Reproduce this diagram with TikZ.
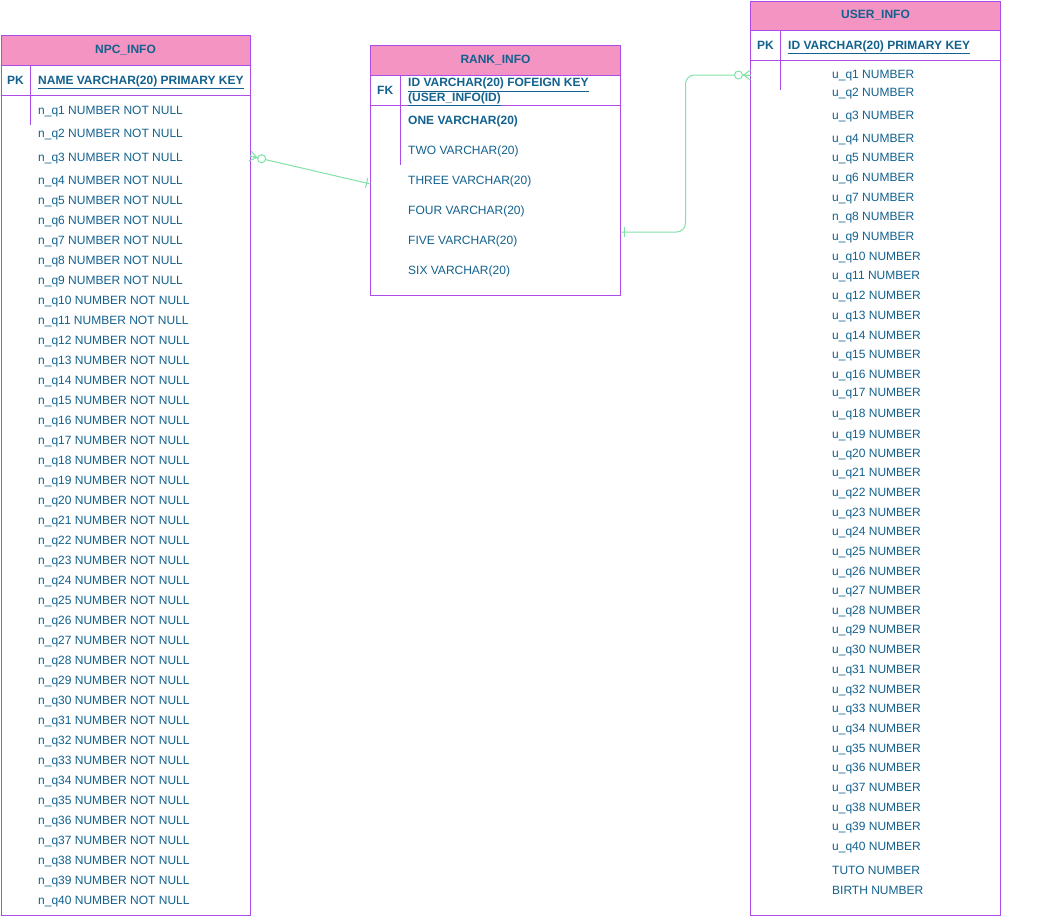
\documentclass[tikz,border=0pt]{standalone}
\usepackage{fontspec}
\setmainfont{Liberation Sans}
\usetikzlibrary{calc}

\definecolor{tblborder}{HTML}{AE4CE8}
\definecolor{tblhead}{HTML}{F494C2}
\definecolor{tbltext}{HTML}{12618E}
\definecolor{reltone}{HTML}{80E0A6}

\tikzset{
  tblbox/.style={draw=tblborder, line width=1pt, outer sep=0pt, inner sep=0pt, anchor=north west},
  tblhdr/.style={draw=tblborder, fill=tblhead, line width=1pt},
  tblrule/.style={draw=tblborder, line width=1pt},
  tbltitle/.style={font=\fontsize{12}{13.5}\selectfont\bfseries, text=tbltext, inner sep=0pt},
  keytxt/.style={font=\fontsize{12}{13.5}\selectfont\bfseries, text=tbltext, inner sep=0pt, anchor=west, text height=8.6pt, text depth=0pt},
  fieldtxt/.style={text=tbltext, inner sep=0pt, anchor=west, text height=8.6pt, text depth=0pt},
  relline/.style={draw=reltone, line width=1pt},
}

% zero-or-many end at #1, line going to #2
\newcommand{\zeromany}[2]{%
  \draw[relline] ($(#1)!5pt!90:(#2)$) -- ($(#1)!7pt!(#2)$) -- ($(#1)!5pt!-90:(#2)$);
  \draw[relline] (#1) -- ($(#1)!7pt!(#2)$);
  \draw[relline, fill=white] ($(#1)!12pt!(#2)$) circle (4pt);}
% one end at #1, line going to #2
\newcommand{\onemark}[2]{%
  \coordinate (tickpt) at ($(#1)!4pt!(#2)$);
  \draw[relline] ($(tickpt)!5pt!90:(#2)$) -- ($(tickpt)!5pt!-90:(#2)$);}

\begin{document}
\begin{tikzpicture}[x=1pt, y=-1pt, font=\fontsize{12}{13.5}\selectfont]
\useasboundingbox (0,0) rectangle (1045,916);

% NPC_INFO
\node[tblbox, minimum width=249pt, minimum height=880pt] (npc) at (1,35) {};
\draw[tblhdr] (npc.north west) rectangle ++(249,30);
\draw[tblrule] (1,95) -- (250,95);
\draw[tblrule] (30,65) -- (30,125);
\node[tbltitle] (npctitle) at (125.5,50) {NPC\_INFO};
\node[keytxt] (npcpk) at (7,80) {PK};
\node[keytxt] (npcname) at (38,80) {\underline{NAME VARCHAR(20) PRIMARY KEY}};
\node[fieldtxt] (nq1) at (38,110) {n\_q1 NUMBER NOT NULL};
\node[fieldtxt] (nq2) at (38,133) {n\_q2 NUMBER NOT NULL};
\node[fieldtxt] (nq3) at (38,157) {n\_q3 NUMBER NOT NULL};
\foreach \i in {4,...,40} {
  \pgfmathtruncatemacro{\yy}{180+(\i-4)*20}
  \node[fieldtxt] (nq\i) at (38,\yy) {n\_q\i{} NUMBER NOT NULL};
}

% RANK_INFO
\node[tblbox, minimum width=250pt, minimum height=250pt] (rank) at (370.5,45) {};
\draw[tblhdr] (rank.north west) rectangle ++(250,30);
\draw[tblrule] (370.5,105) -- (620.5,105);
\draw[tblrule] (400,75) -- (400,165);
\node[tbltitle] (ranktitle) at (495.5,60) {RANK\_INFO};
\node[keytxt] (rankfk) at (377,90) {FK};
\node[text=tbltext, font=\fontsize{12}{13}\selectfont\bfseries, inner sep=0pt, anchor=north west, align=left] (rankid) at (408,78)
  {\underline{ID VARCHAR(20) FOFEIGN KEY}\\\underline{(USER\_INFO(ID)}};
\node[keytxt] (rone) at (408,120) {ONE VARCHAR(20)};
\node[fieldtxt] (rtwo) at (408,150) {TWO VARCHAR(20)};
\node[fieldtxt] (rthree) at (408,180) {THREE VARCHAR(20)};
\node[fieldtxt] (rfour) at (408,210) {FOUR VARCHAR(20)};
\node[fieldtxt] (rfive) at (408,240) {FIVE VARCHAR(20)};
\node[fieldtxt] (rsix) at (408,270) {SIX VARCHAR(20)};

% USER_INFO
\node[tblbox, minimum width=250pt, minimum height=914pt] (user) at (750.5,1) {};
\draw[tblhdr] (user.north west) rectangle ++(250,29);
\draw[tblrule] (750.5,60) -- (1000.5,60);
\draw[tblrule] (780,30) -- (780,90);
\node[tbltitle] (usertitle) at (875.5,15.5) {USER\_INFO};
\node[keytxt] (userpk) at (757,45.5) {PK};
\node[keytxt] (userid) at (788,45.5) {\underline{ID VARCHAR(20) PRIMARY KEY}};
\foreach \yy [count=\i] in {74,92,115,138,157,177,197,216,236,256,275,295,315,335,354,374,392,413,434,453,472,492,512,531,551,571,590,610,629,649,669,689,708,728,748,767,787,807,826,846} {
  \node[fieldtxt] (uq\i) at (832,\yy) {\ifnum\i=8 n\else u\fi\_q\i{} NUMBER};
}
\node[fieldtxt] (ututo) at (832,870) {TUTO NUMBER};
\node[fieldtxt] (ubirth) at (832,890) {BIRTH NUMBER};

% relations
\coordinate (npcq3) at ($(npc.east |- nq3)+(0,-1)$);
\coordinate (rankin) at ($(rank.west |- rthree)+(0,4)$);
\draw[relline] (npcq3) -- (rankin);
\zeromany{npcq3}{rankin}
\onemark{rankin}{npcq3}

\coordinate (rankout) at ($(rank.east |- rfive)+(0,-8)$);
\coordinate (rankturn) at ($(rankout)+(65,0)$);
\coordinate (userin) at ($(user.west |- uq1)+(0,1)$);
\coordinate (userturn) at ($(userin)+(-65,0)$);
\draw[relline, rounded corners=9pt] (rankout) -| ($(rankout)!0.5!(userin)$) |- (userin);
\zeromany{userin}{userturn}
\onemark{rankout}{rankturn}
\end{tikzpicture}
\end{document}
